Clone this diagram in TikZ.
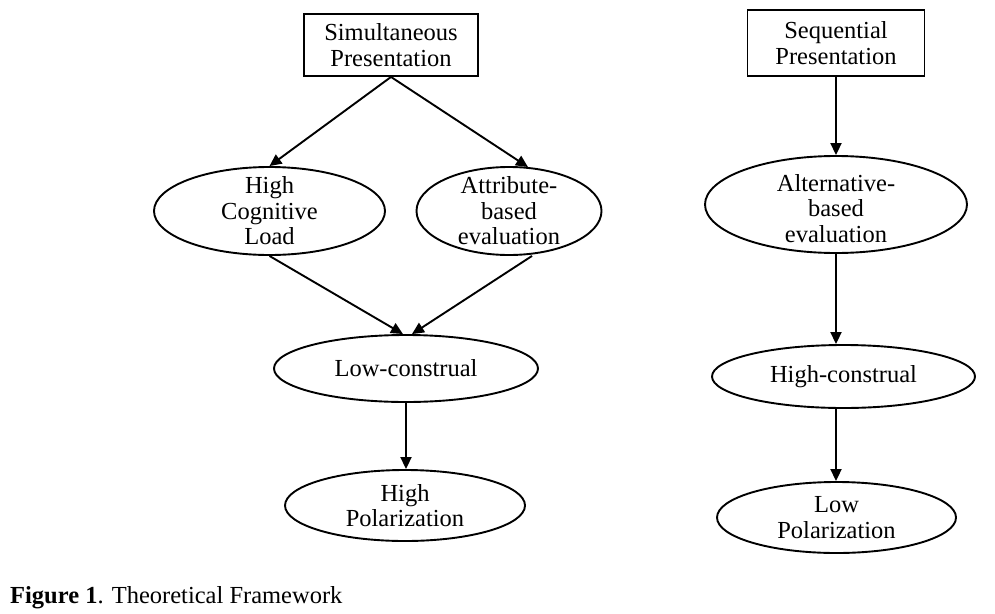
\documentclass[tikz,border=0pt]{standalone}
\usepackage{fontspec}
\setmainfont{Liberation Serif}
\usetikzlibrary{shapes.geometric,arrows.meta,calc}
\begin{document}
\begin{tikzpicture}[x=1pt,y=-1pt,
  every node/.style={font=\fontsize{24.5}{25.5}\selectfont},
  box/.style={draw, line width=1.9pt, rectangle, inner sep=0pt, align=center},
  oval/.style={draw, line width=1.9pt, ellipse, inner sep=0pt},
  txt/.style={align=center, inner sep=0pt},
  arr/.style={line width=1.9pt, -{Triangle[length=12pt,width=11pt]}}]
\useasboundingbox (0,0) rectangle (995,613);
% left column
\node[box, minimum width=174pt, minimum height=62pt] (sim) at (391,45) {Simultaneous\\Presentation};
\node[oval, minimum width=231pt, minimum height=88pt] (hcl) at (269.5,211) {};
\node[txt] (hclt) at (hcl) {High\\Cognitive\\Load};
\node[oval, minimum width=185pt, minimum height=88pt] (attr) at (509,211) {};
\node[txt] (attrt) at (attr) {Attribute-\\based\\evaluation};
\node[oval, minimum width=264pt, minimum height=67pt] (low) at (406,368.5) {};
\node[txt] (lowt) at (low) {Low-construal};
\node[oval, minimum width=240pt, minimum height=71pt] (hpol) at (405,505.5) {};
\node[txt] (hpolt) at (hpol) {High\\Polarization};
% right column
\node[box, minimum width=177pt, minimum height=66pt] (seq) at (836,43) {Sequential\\Presentation};
\node[oval, minimum width=262pt, minimum height=97pt] (alt) at (836,204.5) {};
\node[txt] (altt) at ($(alt)+(0,4)$) {Alternative-\\based\\evaluation};
\node[oval, minimum width=263pt, minimum height=63pt] (hc) at (843.5,376.5) {};
\node[txt] (hct) at (hc) {High-construal};
\node[oval, minimum width=239pt, minimum height=71pt] (lpol) at (836.5,517.5) {};
\node[txt] (lpolt) at (lpol) {Low\\Polarization};
% arrows left
\draw[arr] (sim.south) -- (hcl.north);
\draw[arr] (sim.south) -- ($(attr.north)+(19,1)$);
\draw[arr] (hcl.south) -- ($(low.north)+(-3,0)$);
\draw[arr] ($(attr.south)+(23,0)$) -- ($(low.north)+(6,0)$);
\draw[arr] (low.south) -- (low.south |- hpol.north);
% arrows right
\draw[arr] (seq.south) -- (seq.south |- alt.north);
\draw[arr] (alt.south) -- (alt.south |- hc.north);
\draw[arr] (alt.south |- hc.south) -- (alt.south |- lpol.north);
% caption
\node[anchor=base west, inner sep=0pt] (cap) at (10,603) {\textbf{Figure 1}. Theoretical Framework};
\end{tikzpicture}
\end{document}
